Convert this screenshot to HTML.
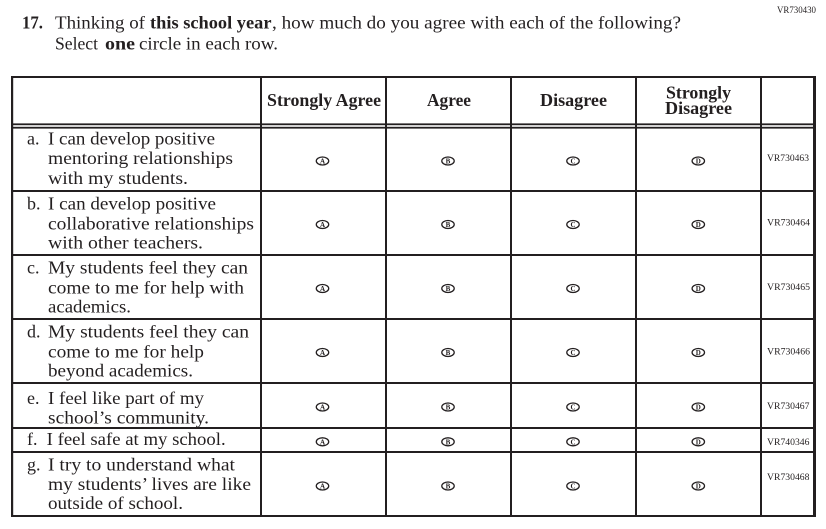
<!DOCTYPE html>
<html>
<head>
<meta charset="utf-8">
<style>
html,body{margin:0;padding:0;background:#fff;}
svg{display:block;font-family:"Liberation Serif","DejaVu Serif",serif;}
svg text{font-family:"Liberation Serif","DejaVu Serif",serif;fill:#231f20;}
.b{font-weight:bold;}
.t{font-size:18px;}
.h{font-size:17.5px;font-weight:bold;}
.v{font-size:9.5px;}
.c{font-size:7px;font-weight:bold;text-anchor:middle;}
</style>
</head>
<body>
<svg width="826" height="529" viewBox="0 0 826 529" xmlns="http://www.w3.org/2000/svg" font-family="Liberation Serif, serif">
<rect width="826" height="529" fill="#fff"/>

<!-- title -->
<text class="v" font-family="Liberation Serif, serif" x="777" y="13" textLength="39" lengthAdjust="spacingAndGlyphs">VR730430</text>
<text class="t b" font-family="Liberation Serif, serif" x="22" y="28.3" textLength="21" lengthAdjust="spacingAndGlyphs">17.</text>
<text class="t" font-family="Liberation Serif, serif" x="55" y="28.3" textLength="90" lengthAdjust="spacingAndGlyphs">Thinking of</text>
<text class="t b" font-family="Liberation Serif, serif" x="150" y="28.3" textLength="121.5" lengthAdjust="spacingAndGlyphs">this school year</text>
<text class="t" font-family="Liberation Serif, serif" x="272" y="28.3" textLength="409" lengthAdjust="spacingAndGlyphs">, how much do you agree with each of the following?</text>
<text class="t" font-family="Liberation Serif, serif" x="55" y="49.3" textLength="43" lengthAdjust="spacingAndGlyphs">Select</text>
<text class="t b" font-family="Liberation Serif, serif" x="105" y="49.3" textLength="30" lengthAdjust="spacingAndGlyphs">one</text>
<text class="t" font-family="Liberation Serif, serif" x="139" y="49.3" textLength="139" lengthAdjust="spacingAndGlyphs">circle in each row.</text>

<!-- table lines -->
<g fill="#231f20">
<rect x="11" y="76" width="805" height="2"/>
<rect x="11" y="76" width="2.2" height="441"/>
<rect x="813" y="76" width="3" height="441"/>
<rect x="11" y="515" width="805" height="2"/>
<rect x="11" y="123.4" width="805" height="1.8"/>
<rect x="11" y="126.8" width="805" height="1.8"/>
<rect x="260" y="77" width="2" height="439"/>
<rect x="385" y="77" width="2" height="439"/>
<rect x="510" y="77" width="2" height="439"/>
<rect x="635" y="77" width="2" height="439"/>
<rect x="760" y="77" width="2" height="439"/>
<rect x="11" y="190" width="805" height="2"/>
<rect x="11" y="254" width="805" height="2"/>
<rect x="11" y="318" width="805" height="2"/>
<rect x="11" y="382" width="805" height="2"/>
<rect x="11" y="427" width="805" height="2"/>
<rect x="11" y="451" width="805" height="2"/>
</g>

<!-- header -->
<g font-family="Liberation Serif, serif">
<text class="h" x="267" y="106" textLength="114" lengthAdjust="spacingAndGlyphs">Strongly Agree</text>
<text class="h" x="427" y="106" textLength="44" lengthAdjust="spacingAndGlyphs">Agree</text>
<text class="h" x="540" y="106" textLength="67" lengthAdjust="spacingAndGlyphs">Disagree</text>
<text class="h" x="666" y="98.3" textLength="65" lengthAdjust="spacingAndGlyphs">Strongly</text>
<text class="h" x="665" y="114" textLength="67" lengthAdjust="spacingAndGlyphs">Disagree</text>
</g>

<!-- row labels -->
<g font-family="Liberation Serif, serif">
<text class="t" x="27" y="144.5">a.</text>
<text class="t" x="48" y="144.5" textLength="167" lengthAdjust="spacingAndGlyphs">I can develop positive</text>
<text class="t" x="48" y="164" textLength="185" lengthAdjust="spacingAndGlyphs">mentoring relationships</text>
<text class="t" x="48" y="184" textLength="140" lengthAdjust="spacingAndGlyphs">with my students.</text>

<text class="t" x="27" y="209.3">b.</text>
<text class="t" x="48" y="209.3" textLength="168" lengthAdjust="spacingAndGlyphs">I can develop positive</text>
<text class="t" x="48" y="229.3" textLength="206" lengthAdjust="spacingAndGlyphs">collaborative relationships</text>
<text class="t" x="48" y="248.5" textLength="155" lengthAdjust="spacingAndGlyphs">with other teachers.</text>

<text class="t" x="27" y="273.3">c.</text>
<text class="t" x="48" y="273.3" textLength="200" lengthAdjust="spacingAndGlyphs">My students feel they can</text>
<text class="t" x="48" y="293.3" textLength="196" lengthAdjust="spacingAndGlyphs">come to me for help with</text>
<text class="t" x="48" y="312.7" textLength="83" lengthAdjust="spacingAndGlyphs">academics.</text>

<text class="t" x="27" y="337.3">d.</text>
<text class="t" x="48" y="337.3" textLength="201" lengthAdjust="spacingAndGlyphs">My students feel they can</text>
<text class="t" x="48" y="357.3" textLength="156" lengthAdjust="spacingAndGlyphs">come to me for help</text>
<text class="t" x="48" y="376.7" textLength="145" lengthAdjust="spacingAndGlyphs">beyond academics.</text>

<text class="t" x="27" y="404">e.</text>
<text class="t" x="48" y="404" textLength="156" lengthAdjust="spacingAndGlyphs">I feel like part of my</text>
<text class="t" x="48" y="423.3" textLength="161" lengthAdjust="spacingAndGlyphs">school’s community.</text>

<text class="t" x="27" y="445">f.</text>
<text class="t" x="46.7" y="445" textLength="179" lengthAdjust="spacingAndGlyphs">I feel safe at my school.</text>

<text class="t" x="27" y="470.7">g.</text>
<text class="t" x="48" y="470.7" textLength="187" lengthAdjust="spacingAndGlyphs">I try to understand what</text>
<text class="t" x="48" y="490" textLength="203" lengthAdjust="spacingAndGlyphs">my students’ lives are like</text>
<text class="t" x="48" y="509" textLength="135" lengthAdjust="spacingAndGlyphs">outside of school.</text>
</g>

<!-- VR codes -->
<g font-family="Liberation Serif, serif">
<text class="v" x="767" y="161" textLength="42" lengthAdjust="spacingAndGlyphs">VR730463</text>
<text class="v" x="767" y="225.7" textLength="43" lengthAdjust="spacingAndGlyphs">VR730464</text>
<text class="v" x="767" y="290" textLength="43" lengthAdjust="spacingAndGlyphs">VR730465</text>
<text class="v" x="767" y="354.3" textLength="43" lengthAdjust="spacingAndGlyphs">VR730466</text>
<text class="v" x="767" y="409" textLength="42.5" lengthAdjust="spacingAndGlyphs">VR730467</text>
<text class="v" x="767" y="445" textLength="42.5" lengthAdjust="spacingAndGlyphs">VR740346</text>
<text class="v" x="767" y="480" textLength="42.5" lengthAdjust="spacingAndGlyphs">VR730468</text>
</g>

<!-- bubbles -->
<defs>
<g id="oa"><ellipse cx="0" cy="0" rx="6.2" ry="4" fill="none" stroke="#231f20" stroke-width="1.3"/><text class="c" font-family="Liberation Serif, serif" x="0" y="2.5">A</text></g>
<g id="ob"><ellipse cx="0" cy="0" rx="6.2" ry="4" fill="none" stroke="#231f20" stroke-width="1.3"/><text class="c" font-family="Liberation Serif, serif" x="0" y="2.5">B</text></g>
<g id="oc"><ellipse cx="0" cy="0" rx="6.2" ry="4" fill="none" stroke="#231f20" stroke-width="1.3"/><text class="c" font-family="Liberation Serif, serif" x="0" y="2.5">C</text></g>
<g id="od"><ellipse cx="0" cy="0" rx="6.2" ry="4" fill="none" stroke="#231f20" stroke-width="1.3"/><text class="c" font-family="Liberation Serif, serif" x="0" y="2.5">D</text></g>
</defs>
<g>
<use href="#oa" x="322.5" y="161"/><use href="#ob" x="448" y="161"/><use href="#oc" x="573" y="161"/><use href="#od" x="698.3" y="161"/>
<use href="#oa" x="322.5" y="224.5"/><use href="#ob" x="448" y="224.5"/><use href="#oc" x="573" y="224.5"/><use href="#od" x="698.3" y="224.5"/>
<use href="#oa" x="322.5" y="288.5"/><use href="#ob" x="448" y="288.5"/><use href="#oc" x="573" y="288.5"/><use href="#od" x="698.3" y="288.5"/>
<use href="#oa" x="322.5" y="352.5"/><use href="#ob" x="448" y="352.5"/><use href="#oc" x="573" y="352.5"/><use href="#od" x="698.3" y="352.5"/>
<use href="#oa" x="322.5" y="407"/><use href="#ob" x="448" y="407"/><use href="#oc" x="573" y="407"/><use href="#od" x="698.3" y="407"/>
<use href="#oa" x="322.5" y="441.8"/><use href="#ob" x="448" y="441.8"/><use href="#oc" x="573" y="441.8"/><use href="#od" x="698.3" y="441.8"/>
<use href="#oa" x="322.5" y="486"/><use href="#ob" x="448" y="486"/><use href="#oc" x="573" y="486"/><use href="#od" x="698.3" y="486"/>
</g>
</svg>
</body>
</html>
